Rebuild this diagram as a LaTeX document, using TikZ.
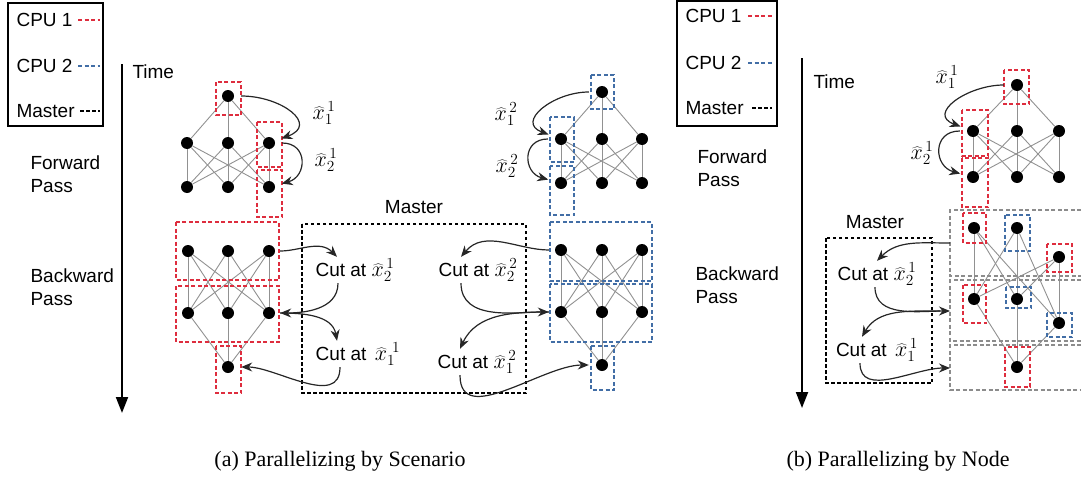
\RequirePackage{fix-cm}
\documentclass[tikz,border=0pt]{standalone}
\usepackage{fontspec}
\setmainfont{Liberation Serif}
\setsansfont{Liberation Sans}
\usetikzlibrary{arrows.meta}
\definecolor{cpuRed}{RGB}{222,45,62}
\definecolor{cpuBlue}{RGB}{66,110,166}
\definecolor{stripGray}{RGB}{140,140,140}
\definecolor{edgeGray}{RGB}{145,145,145}
\newcommand{\xhat}[2]{{\fontsize{22}{26}\selectfont$\widehat{x}_{#1}^{\,#2}$}}
\tikzset{
  neuron/.style={circle,fill=black,inner sep=0pt,minimum size=12pt},
  link/.style={draw=edgeGray,line width=0.9pt},
  cpuone/.style={draw=cpuRed,line width=1.8pt,dash pattern=on 4pt off 2.5pt},
  cputwo/.style={draw=cpuBlue,line width=1.8pt,dash pattern=on 4pt off 2.5pt},
  strip/.style={draw=stripGray,line width=1.6pt,dash pattern=on 4pt off 2.5pt},
  masterbox/.style={draw=black,line width=1.8pt,dash pattern=on 3.5pt off 2.5pt},
  lbl/.style={font=\sffamily\fontsize{19}{23}\selectfont},
  caption/.style={font=\rmfamily\fontsize{22}{26}\selectfont},
  flow/.style={draw=black!85,line width=1.2pt,-{Stealth[length=11pt,width=9pt]}},
  timeline/.style={line width=2pt,-{Triangle[length=16pt,width=12pt]}}
}
\begin{document}
\begin{tikzpicture}[x=1pt,y=-1pt]
  \useasboundingbox (0,0) rectangle (1081,479);
  % legends
  \draw[line width=2.2pt] (8,3) rectangle (103,126);
  \node[lbl,anchor=west] (lgaone) at (13,20) {CPU 1};
  \node[lbl,anchor=west] (lgatwo) at (13,66) {CPU 2};
  \node[lbl,anchor=west] (lgamaster) at (13,111) {Master};
  \draw[cpuone] (78,20) -- (100,20);
  \draw[cputwo] (78,66) -- (100,66);
  \draw[masterbox] (80,111) -- (100,111);
  \draw[line width=2.2pt] (677,1) rectangle (777,126);
  \node[lbl,anchor=west] (lgbone) at (682,16) {CPU 1};
  \node[lbl,anchor=west] (lgbtwo) at (682,63) {CPU 2};
  \node[lbl,anchor=west] (lgbmaster) at (682,108) {Master};
  \draw[cpuone] (748,16) -- (772,16);
  \draw[cputwo] (748,63) -- (772,63);
  \draw[masterbox] (752,108) -- (772,108);
  % time axes
  \coordinate (taa) at (122,64);
  \coordinate (tab) at (122,413);
  \draw[timeline] (taa) -- (tab);
  \coordinate (tba) at (802,58);
  \coordinate (tbb) at (802,408);
  \draw[timeline] (tba) -- (tbb);
  \node[lbl,anchor=west] (timea) at (129,72) {Time};
  \node[lbl,anchor=west] (timeb) at (810,82) {Time};
  \node[lbl,anchor=west,align=left] (fwda) at (27,174) {Forward\\Pass};
  \node[lbl,anchor=west,align=left] (bwda) at (27,287) {Backward\\Pass};
  \node[lbl,anchor=west,align=left] (fwdb) at (694,168) {Forward\\Pass};
  \node[lbl,anchor=west,align=left] (bwdb) at (692,285) {Backward\\Pass};

  % (a) CPU 1 network
  \node[neuron] (a1t) at (228,96) {};
  \node[neuron] (a1m1) at (187,143) {};
  \node[neuron] (a1m2) at (228,143) {};
  \node[neuron] (a1m3) at (269,143) {};
  \node[neuron] (a1b1) at (187,187) {};
  \node[neuron] (a1b2) at (228,187) {};
  \node[neuron] (a1b3) at (269,187) {};
  \node[neuron] (a1u1) at (188,251) {};
  \node[neuron] (a1u2) at (228,251) {};
  \node[neuron] (a1u3) at (269,251) {};
  \node[neuron] (a1l1) at (188,313) {};
  \node[neuron] (a1l2) at (228,313) {};
  \node[neuron] (a1l3) at (269,313) {};
  \node[neuron] (a1o) at (228,367) {};
  % (a) CPU 2 network
  \node[neuron] (a2t) at (602,92) {};
  \node[neuron] (a2m1) at (561,139) {};
  \node[neuron] (a2m2) at (602,139) {};
  \node[neuron] (a2m3) at (642,139) {};
  \node[neuron] (a2b1) at (561,183) {};
  \node[neuron] (a2b2) at (602,183) {};
  \node[neuron] (a2b3) at (642,183) {};
  \node[neuron] (a2u1) at (561,250) {};
  \node[neuron] (a2u2) at (602,250) {};
  \node[neuron] (a2u3) at (642,250) {};
  \node[neuron] (a2l1) at (561,312) {};
  \node[neuron] (a2l2) at (602,312) {};
  \node[neuron] (a2l3) at (642,312) {};
  \node[neuron] (a2o) at (602,365) {};
  % (b) network
  \node[neuron] (bt) at (1017,85) {};
  \node[neuron] (bm1) at (973,131) {};
  \node[neuron] (bm2) at (1017,131) {};
  \node[neuron] (bm3) at (1059,131) {};
  \node[neuron] (bb1) at (973,177) {};
  \node[neuron] (bb2) at (1017,177) {};
  \node[neuron] (bb3) at (1059,177) {};
  \node[neuron] (bu1) at (974,228) {};
  \node[neuron] (bu2) at (1017,228) {};
  \node[neuron] (bu3) at (1059,257) {};
  \node[neuron] (bl1) at (974,299) {};
  \node[neuron] (bl2) at (1017,299) {};
  \node[neuron] (bl3) at (1059,323) {};
  \node[neuron] (bo) at (1017,367) {};

  \foreach \n in {a1,a2} {
    \foreach \i in {1,2,3} {
      \draw[link] (\n t) -- (\n m\i);
      \draw[link] (\n l\i) -- (\n o);
      \foreach \j in {1,2,3} {
        \draw[link] (\n m\i) -- (\n b\j);
        \draw[link] (\n u\i) -- (\n l\j);
      }
    }
  }
  \foreach \i in {1,2,3} {
    \draw[link] (bt) -- (bm\i);
    \draw[link] (bl\i) -- (bo);
    \foreach \j in {1,2,3} {
      \draw[link] (bm\i) -- (bb\j);
      \draw[link] (bu\i) -- (bl\j);
    }
  }

  % dashed boxes
  \draw[cpuone] (216,82) rectangle (241,115);
  \draw[cpuone] (257,122) rectangle (282,167);
  \draw[cpuone] (257,170) rectangle (282,217);
  \draw[cpuone] (176,222) rectangle (279,280);
  \draw[cpuone] (176,286) rectangle (279,342);
  \draw[cpuone] (216,346) rectangle (241,393);
  \draw[cputwo] (591,75) rectangle (614,109);
  \draw[cputwo] (550,117) rectangle (574,162);
  \draw[cputwo] (550,166) rectangle (574,215);
  \draw[cputwo] (550,222) rectangle (652,281);
  \draw[cputwo] (550,284) rectangle (652,342);
  \draw[cputwo] (591,346) rectangle (614,390);
  \draw[cpuone] (1004,70) rectangle (1029,104);
  \draw[cpuone] (962,110) rectangle (988,156);
  \draw[cpuone] (962,158) rectangle (988,207);
  \draw[strip] (1081,210) -| (950,276) -- (1081,276);
  \draw[strip] (1081,280) -| (950,341) -- (1081,341);
  \draw[strip] (1081,345) -| (950,390) -- (1081,390);
  \draw[cpuone] (963,213) rectangle (986,243);
  \draw[cputwo] (1005,215) rectangle (1030,251);
  \draw[cpuone] (1047,244) rectangle (1072,272);
  \draw[cpuone] (963,285) rectangle (986,323);
  \draw[cputwo] (1006,287) rectangle (1031,308);
  \draw[cputwo] (1047,313) rectangle (1072,337);
  \draw[cpuone] (1005,347) rectangle (1030,387);
  \draw[masterbox] (302,224) rectangle (526,393);
  \draw[masterbox] (826,238) rectangle (932,383);
  \node[lbl] (mastera) at (414,207) {Master};
  \node[lbl] (masterb) at (875,222) {Master};

  % forward messages
  \node[lbl] (xa11) at (324,113) {\xhat{1}{1}};
  \node[lbl] (xa21) at (326,160) {\xhat{2}{1}};
  \node[lbl] (xa12) at (506,114) {\xhat{1}{2}};
  \node[lbl] (xa22) at (507,166) {\xhat{2}{2}};
  \node[lbl] (xb11) at (947,77) {\xhat{1}{1}};
  \node[lbl] (xb21) at (922,153) {\xhat{2}{1}};
  \draw[flow,shorten <=7pt,shorten >=7pt] (a1t) to[out=0,in=20,looseness=2] (a1m3);
  \draw[flow,shorten <=7pt,shorten >=7pt] (a1m3) to[out=0,in=15,looseness=2] (a1b3);
  \draw[flow,shorten <=7pt,shorten >=7pt] (a2t) to[out=180,in=160,looseness=1.8] (a2m1);
  \draw[flow,shorten <=7pt,shorten >=7pt] (a2m1) to[out=180,in=165,looseness=2] (a2b1);
  \draw[flow,shorten <=7pt,shorten >=7pt] (bt) to[out=180,in=160,looseness=1.8] (bm1);
  \draw[flow,shorten <=7pt,shorten >=7pt] (bm1) to[out=180,in=165,looseness=2] (bb1);

  % master cuts
  \node[lbl] (cut2a) at (355,270) {Cut at \xhat{2}{1}};
  \node[lbl] (cut1a) at (358,354) {Cut at \,\xhat{1}{\,1}};
  \node[lbl] (cut2b) at (478,270) {Cut at \xhat{2}{2}};
  \node[lbl] (cut1b) at (477,362) {Cut at \xhat{1}{2}};
  \node[lbl] (cutb2) at (877,274) {Cut at \xhat{2}{1}};
  \node[lbl] (cutb1) at (877,350) {Cut at \,\xhat{1}{1}};
  \coordinate (sb1) at (950,243);
  \coordinate (sb2) at (950,311);
  \coordinate (sb3) at (950,368);
  \draw[flow,shorten <=5pt] (a1u3) to[out=0,in=135] ([xshift=-18pt,yshift=-2pt]cut2a.north);
  \draw[flow,shorten >=5pt] ([xshift=-17pt,yshift=2pt]cut2a.south) to[out=-90,in=0] (a1l3);
  \draw[flow,shorten <=5pt] (a1l3) to[out=0,in=100] ([xshift=-21pt,yshift=-2pt]cut1a.north);
  \draw[flow,shorten >=7pt] ([xshift=-18pt,yshift=2pt]cut1a.south) to[out=-90,in=0] (a1o);
  \draw[flow,shorten <=6pt] (a2u1) to[out=180,in=50] ([xshift=-17pt,yshift=-2pt]cut2b.north);
  \draw[flow,shorten >=6pt] ([xshift=-17pt,yshift=2pt]cut2b.south) to[out=-90,in=180] (a2l1);
  \draw[flow,shorten <=6pt] (a2l1) to[out=180,in=65] ([xshift=-17pt,yshift=-2pt]cut1b.north);
  \draw[flow,shorten >=7pt] ([xshift=-17pt,yshift=2pt]cut1b.south) to[out=-90,in=180] (a2o);
  \draw[flow] (sb1) to[out=180,in=45] ([yshift=-2pt]cutb2.north);
  \draw[flow] ([xshift=-2pt,yshift=2pt]cutb2.south) to[out=-90,in=180] (sb2);
  \draw[flow] ([xshift=-10pt]sb2) to[out=180,in=60] ([xshift=-15pt,yshift=-2pt]cutb1.north);
  \draw[flow] ([xshift=-17pt,yshift=2pt]cutb1.south) to[out=-90,in=180] (sb3);

  \node[caption] (capa) at (340,461) {(a) Parallelizing by Scenario};
  \node[caption] (capb) at (898,461) {(b) Parallelizing by Node};
\end{tikzpicture}
\end{document}
